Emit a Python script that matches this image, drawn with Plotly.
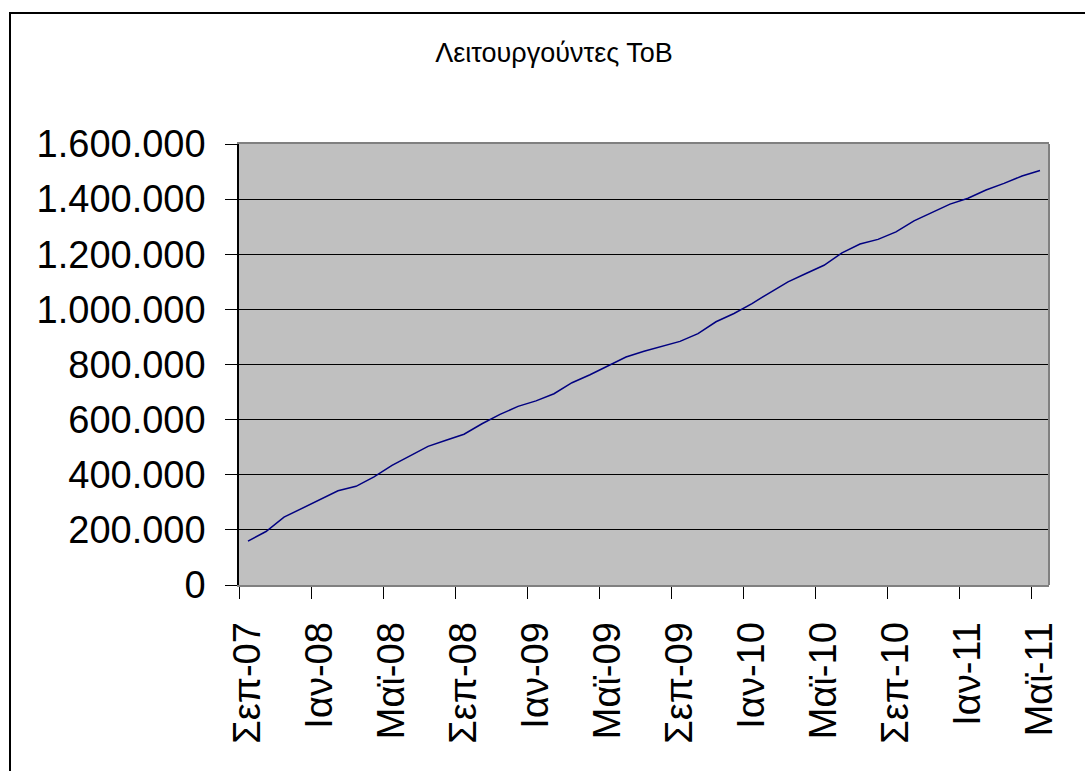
import plotly.graph_objects as go

months = ["Σεπ-07", "Οκτ-07", "Νοε-07", "Δεκ-07",
          "Ιαν-08", "Φεβ-08", "Μαρ-08", "Απρ-08", "Μαϊ-08", "Ιουν-08", "Ιουλ-08", "Αυγ-08",
          "Σεπ-08", "Οκτ-08", "Νοε-08", "Δεκ-08",
          "Ιαν-09", "Φεβ-09", "Μαρ-09", "Απρ-09", "Μαϊ-09", "Ιουν-09", "Ιουλ-09", "Αυγ-09",
          "Σεπ-09", "Οκτ-09", "Νοε-09", "Δεκ-09",
          "Ιαν-10", "Φεβ-10", "Μαρ-10", "Απρ-10", "Μαϊ-10", "Ιουν-10", "Ιουλ-10", "Αυγ-10",
          "Σεπ-10", "Οκτ-10", "Νοε-10", "Δεκ-10",
          "Ιαν-11", "Φεβ-11", "Μαρ-11", "Απρ-11", "Μαϊ-11"]

values = [159000, 194000, 246000, 277000, 309000, 342000, 358000, 392000, 434000,
          467000, 503000, 525000, 547000, 585000, 619000, 648000, 668000, 694000,
          734000, 763000, 794000, 827000, 848000, 866000, 884000, 912000, 955000,
          985000, 1021000, 1061000, 1100000, 1130000, 1160000, 1205000, 1237000,
          1254000, 1281000, 1321000, 1353000, 1382000, 1403000, 1433000, 1457000,
          1484000, 1504000]

tick_labels = ["Σεπ-07", "Ιαν-08", "Μαϊ-08", "Σεπ-08", "Ιαν-09", "Μαϊ-09",
               "Σεπ-09", "Ιαν-10", "Μαϊ-10", "Σεπ-10", "Ιαν-11", "Μαϊ-11"]

y_ticks = [0, 200000, 400000, 600000, 800000, 1000000, 1200000, 1400000, 1600000]

title_text = "Λειτουργούντες ΤοΒ"

FONT = "Liberation Sans, Arial, sans-serif"

x_idx = list(range(len(months)))
tick_pos = [months.index(t) for t in tick_labels]

fig = go.Figure()
fig.add_trace(go.Scatter(x=x_idx, y=values, mode="lines",
                         line=dict(color="#000080", width=1.5),
                         showlegend=False, hoverinfo="skip"))

W, H = 1085, 771
L, R, T, B = 239, 36, 144, 186
pw = W - L - R
ph = H - T - B

fig.update_layout(
    width=W, height=H,
    margin=dict(l=L, r=R, t=T, b=B, pad=0),
    paper_bgcolor="white",
    plot_bgcolor="#C0C0C0",
    separators=",.",
    font=dict(family=FONT, color="black", size=38),
    title=dict(text=title_text, x=554 / W, xref="container", xanchor="center",
               y=1 - 53 / H, yref="container", yanchor="middle",
               font=dict(family=FONT, size=27, color="black")),
    xaxis=dict(type="linear",
               range=[-0.5, len(months) - 0.5],
               tickmode="array", tickvals=tick_pos, ticktext=tick_labels,
               ticks="", tickangle=-90, tickfont=dict(family=FONT, size=38),
               minor=dict(tick0=-0.5, dtick=4, ticks="outside", ticklen=12,
                          tickcolor="black", tickwidth=1, showgrid=False),
               showgrid=False, showline=True, linecolor="#808080", linewidth=2,
               mirror=True, zeroline=False, ticklabelstandoff=20),
    yaxis=dict(range=[0, 1600000], tickmode="array", tickvals=y_ticks,
               tickformat=",d", ticks="outside", ticklen=12, tickcolor="black",
               tickfont=dict(family=FONT, size=38),
               showgrid=True, gridcolor="black", gridwidth=1,
               showline=True, linecolor="black", linewidth=1.5,
               zeroline=False, ticklabelstandoff=12),
    shapes=[
        dict(type="line", xref="paper", yref="paper", x0=1, x1=1, y0=0, y1=1,
             line=dict(color="#808080", width=2)),
        dict(type="rect", xref="paper", yref="paper",
             x0=(10 - L) / pw, x1=(W + 20 - L) / pw,
             y0=-(H + 20 - T - ph) / ph, y1=(H - B - 13) / ph,
             line=dict(color="black", width=2), fillcolor="rgba(0,0,0,0)"),
    ],
)

fig.write_html("out.html", config={"displayModeBar": False},
               post_script="document.body.style.margin='0';")
